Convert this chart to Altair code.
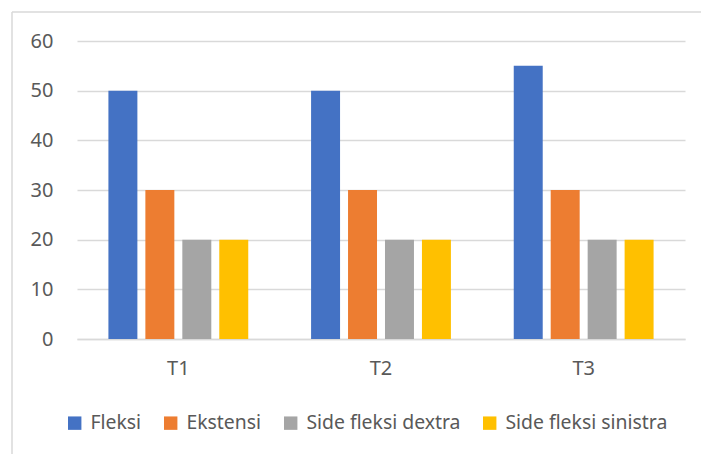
import altair as alt
import pandas as pd

groups = ["T1", "T2", "T3"]
series = ["Fleksi", "Ekstensi", "Side fleksi dextra", "Side fleksi sinistra"]
fleksi = [50, 50, 55]
ekstensi = [30, 30, 30]
dextra = [20, 20, 20]
sinistra = [20, 20, 20]
colors = ["#4472C4", "#ED7D31", "#A5A5A5", "#FFC000"]
y_ticks = [0, 10, 20, 30, 40, 50, 60]

rows = []
for s, vals in zip(series, [fleksi, ekstensi, dextra, sinistra]):
    for g, v in zip(groups, vals):
        rows.append({"group": g, "series": s, "value": v})
df = pd.DataFrame(rows)

FONT = "Noto Sans"
W, H = 608, 298

bars = alt.Chart(df).mark_bar().encode(
    x=alt.X("group:N", sort=groups, title=None,
            scale=alt.Scale(paddingInner=0.31, paddingOuter=0.155),
            axis=alt.Axis(labelAngle=0, labelFontSize=20, labelColor="#595959",
                          labelFont=FONT, labelPadding=19, ticks=False,
                          domainColor="#D9D9D9", domainWidth=1.5, grid=False)),
    xOffset=alt.XOffset("series:N", sort=series,
                        scale=alt.Scale(paddingInner=0.216, paddingOuter=0)),
    y=alt.Y("value:Q", title=None,
            scale=alt.Scale(domain=[0, 60]),
            axis=alt.Axis(values=y_ticks, labelFontSize=20, labelColor="#595959",
                          labelFont=FONT, labelPadding=24, ticks=False, domain=False,
                          gridColor="#D9D9D9", gridWidth=1.5)),
    color=alt.Color("series:N", sort=series,
                    scale=alt.Scale(domain=series, range=colors),
                    legend=alt.Legend(title=None, orient="none", direction="horizontal",
                                      legendX=-12, legendY=372, columns=4,
                                      symbolType="square", symbolSize=180,
                                      symbolStrokeWidth=0, labelFontSize=19.4,
                                      labelColor="#595959", labelFont=FONT,
                                      labelLimit=0,
                                      columnPadding=19, labelOffset=6)),
)

border_left = alt.Chart(pd.DataFrame({"a": [0]})).mark_rule(
    color="#D9D9D9", strokeWidth=1.5, clip=False
).encode(x=alt.value(-65), y=alt.value(-29), y2=alt.value(430))

border_top = alt.Chart(pd.DataFrame({"a": [0]})).mark_rule(
    color="#D9D9D9", strokeWidth=1.5, clip=False
).encode(x=alt.value(-65), x2=alt.value(640), y=alt.value(-29))

chart = alt.layer(border_left, border_top, bars).properties(
    width=W, height=H,
    autosize=alt.AutoSizeParams(type="none"),
    padding={"left": 77, "top": 41, "right": 16, "bottom": 115},
    background="white",
).configure_view(stroke=None)

chart.save("out.html", embed_options={"renderer": "svg", "actions": False})
